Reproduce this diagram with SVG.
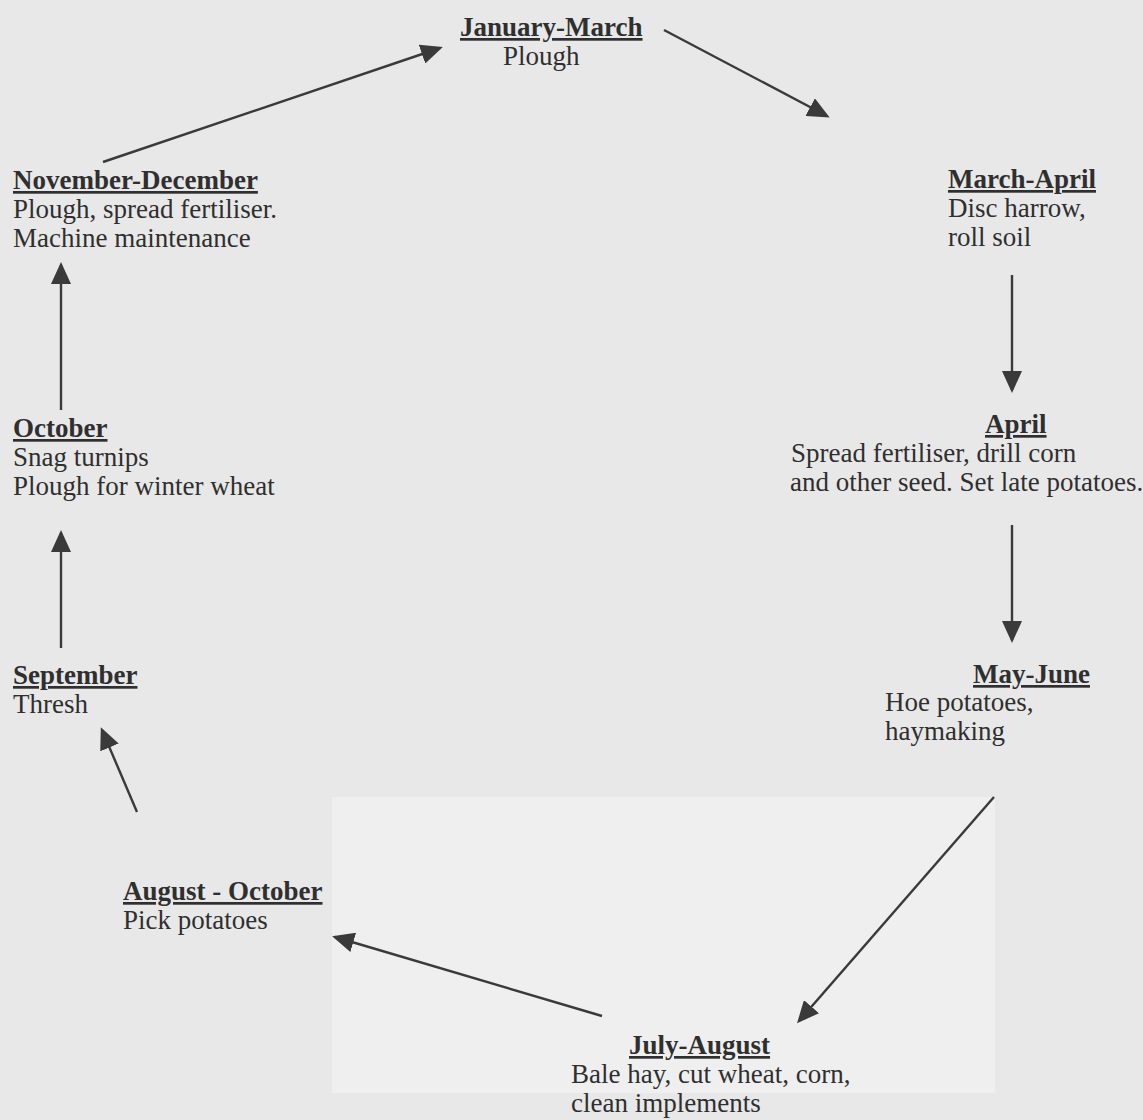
<svg xmlns="http://www.w3.org/2000/svg" width="1143" height="1120" viewBox="0 0 1143 1120">
<defs>
<style>
text{font-family:"Liberation Serif","Times New Roman",serif;font-size:27px;fill:#2f2f2f;}
.h{font-weight:bold;text-decoration:underline;}
.c line{stroke:#3a3a3a;stroke-width:2.4;marker-end:url(#ah);}
</style>
<marker id="ah" viewBox="0 0 22 20" refX="19" refY="10" markerWidth="22" markerHeight="20" markerUnits="userSpaceOnUse" orient="auto">
<path d="M0,0 L22,10 L0,20 z" fill="#3a3a3a"/>
</marker>
</defs>
<rect width="1143" height="1120" fill="#e8e8e8"/>
<rect x="332" y="797" width="663" height="296" fill="#efefef"/>
<g class="c" id="connectors">
<line x1="664" y1="30" x2="827" y2="116"/>
<line x1="1012" y1="275" x2="1012" y2="390"/>
<line x1="1012" y1="525" x2="1012" y2="640"/>
<line x1="994" y1="797" x2="799" y2="1021"/>
<line x1="602" y1="1016" x2="335" y2="937"/>
<line x1="137" y1="812" x2="102" y2="730"/>
<line x1="61" y1="648" x2="61" y2="533"/>
<line x1="61" y1="410" x2="61" y2="265"/>
<line x1="103" y1="162" x2="440" y2="48"/>
</g>
<g id="jan-mar"><text class="h" x="460" y="36">January-March</text><text x="503" y="65">Plough</text></g>
<g id="mar-apr"><text class="h" x="948" y="188">March-April</text><text x="948" y="217">Disc harrow,</text><text x="948" y="246">roll soil</text></g>
<g id="april"><text class="h" x="985" y="433">April</text><text x="791" y="462">Spread fertiliser, drill corn</text><text x="790" y="491">and other seed. Set late potatoes.</text></g>
<g id="may-jun"><text class="h" x="973" y="683">May-June</text><text x="885" y="711">Hoe potatoes,</text><text x="885" y="740">haymaking</text></g>
<g id="jul-aug"><text class="h" x="629" y="1054">July-August</text><text x="571" y="1083">Bale hay, cut wheat, corn,</text><text x="571" y="1112">clean implements</text></g>
<g id="aug-oct"><text class="h" x="123" y="900">August - October</text><text x="123" y="929">Pick potatoes</text></g>
<g id="sep"><text class="h" x="13" y="684">September</text><text x="13" y="713">Thresh</text></g>
<g id="oct"><text class="h" x="13" y="437">October</text><text x="13" y="466">Snag turnips</text><text x="13" y="495">Plough for winter wheat</text></g>
<g id="nov-dec"><text class="h" x="13" y="189">November-December</text><text x="13" y="218">Plough, spread fertiliser.</text><text x="13" y="247">Machine maintenance</text></g>
</svg>
